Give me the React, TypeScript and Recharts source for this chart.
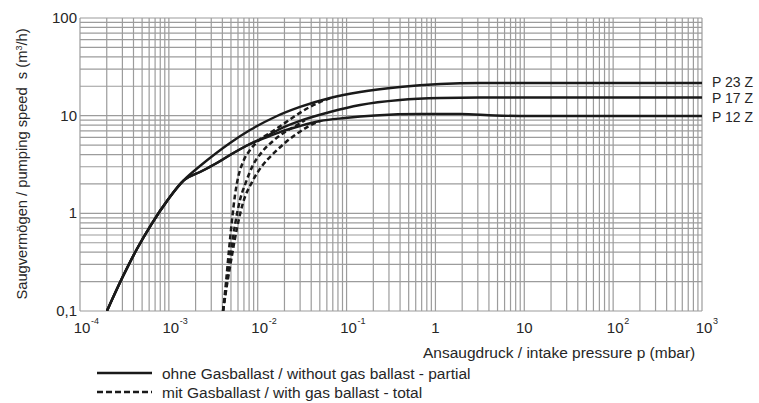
import { LineChart, Line, XAxis, YAxis, ReferenceLine } from "recharts";

// shared start of all solid curves (p in mbar, s in m3/h)
const BASE_P = [2.01e-4, 2.97e-4, 4.37e-4, 6.46e-4, 9.53e-4, 1.48e-3];
const BASE_S = [0.1, 0.216, 0.431, 0.791, 1.34, 2.19];

const P23_P = [2.24e-3, 3.31e-3, 4.88e-3, 8.19e-3, 1.56e-2, 2.99e-2, 6.51e-2, 0.142, 0.399, 1.13, 3.17, 1000];
const P23_S = [3.05, 4.05, 5.25, 7.13, 9.69, 12.27, 15.17, 17.47, 19.66, 21.09, 21.6, 21.6];

const P17_P = [2.24e-3, 3.31e-3, 4.88e-3, 8.19e-3, 1.21e-2, 1.78e-2, 2.99e-2, 6.51e-2, 0.142, 0.399, 1.13, 3.17, 1000];
const P17_S = [2.65, 3.2, 3.96, 5.13, 6.05, 7.3, 8.82, 10.9, 12.86, 14.47, 15.17, 15.35, 15.35];

const P12_P = [2.24e-3, 3.31e-3, 4.88e-3, 8.19e-3, 1.21e-2, 1.78e-2, 2.99e-2, 5.02e-2, 9.6e-2, 0.209, 0.67, 1.89, 4.68, 11.6, 1000];
const P12_S = [2.65, 3.2, 3.96, 5.13, 5.91, 6.8, 7.84, 8.82, 9.46, 10.04, 10.4, 10.4, 10.04, 9.92, 9.92];

// mit Gasballast
const D23_P = [4.07e-3, 4.4e-3, 4.75e-3, 5.14e-3, 5.55e-3, 6.0e-3, 6.83e-3, 8.19e-3, 1.007e-2, 1.374e-2, 1.876e-2, 2.627e-2, 3.68e-2, 5.02e-2, 6.85e-2];
const D23_S = [0.1, 0.198, 0.421, 0.855, 1.54, 2.3, 3.35, 4.45, 5.5, 6.65, 8.02, 9.92, 11.98, 13.8, 15.35];

const D17_P = [4.07e-3, 4.51e-3, 5.0e-3, 5.55e-3, 6.32e-3, 7.38e-3, 8.85e-3, 1.117e-2, 1.485e-2, 2.03e-2, 2.77e-2, 3.4e-2];
const D17_S = [0.1, 0.198, 0.402, 0.76, 1.37, 2.09, 3.12, 4.25, 5.5, 6.8, 8.02, 9.0];

const D12_P = [4.07e-3, 4.51e-3, 5.14e-3, 5.85e-3, 6.83e-3, 8.62e-3, 1.117e-2, 1.525e-2, 2.08e-2, 2.84e-2, 3.78e-2, 5.02e-2];
const D12_S = [0.1, 0.185, 0.374, 0.708, 1.28, 2.09, 3.05, 4.15, 5.37, 6.65, 7.84, 8.82];

const X_TICKS = [1e-4, 1e-3, 1e-2, 1e-1, 1, 10, 100, 1000];
const X_BASE = ["10", "10", "10", "10", "1", "10", "10", "10"];
const X_EXP = ["-4", "-3", "-2", "-1", "", "", "2", "3"];
const Y_TICKS = [0.1, 1, 10, 100];
const Y_LABELS = ["0,1", "1", "10", "100"];

const X_DECADES = [1e-4, 1e-3, 1e-2, 1e-1, 1, 10, 100];
const Y_DECADES = [0.1, 1, 10];
const MANT = [1, 2, 3, 4, 5, 6, 7, 8, 9];
const X_GRID = [...X_DECADES.flatMap((d) => MANT.map((m) => m * d)), 1000];
const Y_GRID = [...Y_DECADES.flatMap((d) => MANT.map((m) => m * d)), 100];

const toRows = (p: number[], s: number[]) => p.map((v, i) => ({ p: v, s: s[i] }));
const withBase = (p: number[], s: number[]) => toRows([...BASE_P, ...p], [...BASE_S, ...s]);

const FONT = "'Liberation Sans', Arial, sans-serif";
const INK = "#1a1a1a";
const TXT = "#262626";

const XTick = ({ x, y, index }: any) => {
  const exp = X_EXP[index];
  return (
    <g>
      <text x={exp ? x + 2 : x} y={y + 14} textAnchor="middle" fontSize={15} fill={TXT} fontFamily={FONT}>
        {X_BASE[index]}
      </text>
      {exp && (
        <text x={x + 11} y={y + 5} fontSize={9} fill={TXT} fontFamily={FONT}>
          {exp}
        </text>
      )}
    </g>
  );
};

const YTick = ({ x, y, index }: any) => (
  <text x={x + 5} y={y + 5} textAnchor="end" fontSize={15} fill={TXT} fontFamily={FONT}>
    {Y_LABELS[index]}
  </text>
);

// name at the right end of a curve; dy nudges it a little so neighbours don't touch
const endLabel = (name: string, last: number, dy: number) => (props: any) =>
  props.index === last ? (
    <text key={name} x={props.x + 10} y={props.y + 5 + dy} fontSize={14} fill={TXT} fontFamily={FONT}>
      {name}
    </text>
  ) : (
    <g key={props.index} />
  );

const p23 = withBase(P23_P, P23_S);
const p17 = withBase(P17_P, P17_S);
const p12 = withBase(P12_P, P12_S);

export default function App() {
  return (
    <div style={{ position: "absolute", left: 0, top: 0, width: 759, height: 403, background: "#fff", fontFamily: FONT }}>
      <LineChart width={759} height={403} margin={{ top: 18, right: 57, bottom: 62, left: 30 }}>
        <XAxis
          dataKey="p"
          type="number"
          scale="log"
          domain={[1e-4, 1000]}
          allowDataOverflow
          ticks={X_TICKS}
          tick={<XTick />}
          axisLine={false}
          tickLine={false}
          interval={0}
          height={30}
        />
        <YAxis
          type="number"
          scale="log"
          domain={[0.1, 100]}
          allowDataOverflow
          ticks={Y_TICKS}
          tick={<YTick />}
          axisLine={false}
          tickLine={false}
          interval={0}
          width={50}
        />
        {X_GRID.map((v) => (
          <ReferenceLine key={"x" + v} x={v} stroke="#9c9c9c" strokeWidth={1.2} />
        ))}
        {Y_GRID.map((v) => (
          <ReferenceLine key={"y" + v} y={v} stroke="#9c9c9c" strokeWidth={1.2} />
        ))}
        <Line data={p23} dataKey="s" type="monotone" stroke={INK} strokeWidth={2.4} dot={false} isAnimationActive={false} label={endLabel("P 23 Z", p23.length - 1, -1.5)} />
        <Line data={p17} dataKey="s" type="monotone" stroke={INK} strokeWidth={2.4} dot={false} isAnimationActive={false} label={endLabel("P 17 Z", p17.length - 1, 0.5)} />
        <Line data={p12} dataKey="s" type="monotone" stroke={INK} strokeWidth={2.4} dot={false} isAnimationActive={false} label={endLabel("P 12 Z", p12.length - 1, 1)} />
        <Line data={toRows(D23_P, D23_S)} dataKey="s" type="monotone" stroke={INK} strokeWidth={2.5} strokeDasharray="5 3" dot={false} isAnimationActive={false} />
        <Line data={toRows(D17_P, D17_S)} dataKey="s" type="monotone" stroke={INK} strokeWidth={2.5} strokeDasharray="5 3" dot={false} isAnimationActive={false} />
        <Line data={toRows(D12_P, D12_S)} dataKey="s" type="monotone" stroke={INK} strokeWidth={2.5} strokeDasharray="5 3" dot={false} isAnimationActive={false} />
      </LineChart>
      <div
        style={{
          position: "absolute",
          left: 22,
          top: 164,
          transform: "translate(-50%, -50%) rotate(-90deg)",
          whiteSpace: "nowrap",
          fontSize: 14.7,
          color: TXT,
        }}
      >
        Saugvermögen / pumping speed&nbsp;&nbsp;s (m<sup style={{ fontSize: 9 }}>3</sup>/h)
      </div>
      <div style={{ position: "absolute", left: 423, top: 344, whiteSpace: "nowrap", fontSize: 15.5, color: TXT }}>
        Ansaugdruck / intake pressure p (mbar)
      </div>
      <svg style={{ position: "absolute", left: 0, top: 360 }} width={759} height={43}>
        <line x1={97} x2={152} y1={13} y2={13} stroke={INK} strokeWidth={2.4} />
        <line x1={97} x2={152} y1={32} y2={32} stroke={INK} strokeWidth={2.5} strokeDasharray="6 3" />
        <text x={162} y={18.5} fontSize={15.5} fill={TXT} fontFamily={FONT}>
          ohne Gasballast / without gas ballast - partial
        </text>
        <text x={162} y={37.5} fontSize={15.5} fill={TXT} fontFamily={FONT}>
          mit Gasballast / with gas ballast - total
        </text>
      </svg>
    </div>
  );
}
